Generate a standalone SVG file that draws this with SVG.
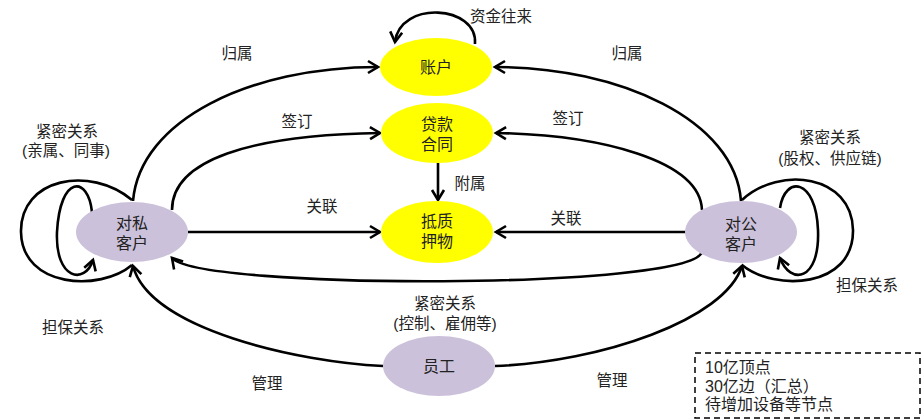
<svg xmlns="http://www.w3.org/2000/svg" width="922" height="420" viewBox="0 0 922 420">
<style>
.bg{fill:#ffffff}
.y{fill:#FFFF00;stroke:none}
.p{fill:#CCC1DA;stroke:none}
.e{fill:none;stroke:#000;stroke-width:2.6}
.nt{font-family:"Liberation Sans","Noto Sans CJK SC",sans-serif;font-size:16px;fill:#222;text-anchor:middle;dominant-baseline:central}
.lt{font-family:"Liberation Sans","Noto Sans CJK SC",sans-serif;font-size:15.5px;fill:#222;text-anchor:middle;dominant-baseline:central}
.bt{font-family:"Liberation Sans","Noto Sans CJK SC",sans-serif;font-size:16px;fill:#222;dominant-baseline:central}
</style>
<defs>
<marker id="arr" markerUnits="userSpaceOnUse" markerWidth="16" markerHeight="16" refX="13" refY="8" orient="auto">
<path d="M3,2 L13,8 L3,14" fill="none" stroke="#000" stroke-width="2.6" stroke-linejoin="miter"/>
</marker>
</defs>
<rect class="bg" x="0" y="0" width="922" height="420"/>

<g id="connectors">
<!-- self loop account -->
<path class="e" d="M475,44 C478,5 400,0 395,42" marker-end="url(#arr)"/>
<!-- private -> account -->
<path class="e" d="M133,201 C140,120 250,67 378,67" marker-end="url(#arr)"/>
<!-- private -> contract -->
<path class="e" d="M172,210 C172,160 250,135 380,133" marker-end="url(#arr)"/>
<!-- private -> collateral -->
<path class="e" d="M188,232 L380,232" marker-end="url(#arr)"/>
<!-- corporate -> account -->
<path class="e" d="M741,201 C735,120 620,67 495,67" marker-end="url(#arr)"/>
<!-- corporate -> contract -->
<path class="e" d="M702,210 C700,160 600,135 496,133" marker-end="url(#arr)"/>
<!-- corporate -> collateral -->
<path class="e" d="M686,232 L496,232" marker-end="url(#arr)"/>
<!-- contract -> collateral -->
<path class="e" d="M438,163 L438,200" marker-end="url(#arr)"/>
<!-- corporate -> private -->
<path class="e" d="M702,252 C690,290 200,290 172,258" marker-end="url(#arr)"/>
<!-- private self loops -->
<path class="e" d="M132,200 C90,165 20,178 21,232 C22,288 100,292 132,265"/>
<path class="e" d="M92,212 C88,175 60,175 57,232 C55,280 85,285 93,260" marker-end="url(#arr)"/>
<!-- corporate self loops -->
<path class="e" d="M742,200 C780,165 852,175 853,230 C854,288 775,292 742,265"/>
<path class="e" d="M780,208 C785,175 816,178 818,230 C820,282 790,285 780,258" marker-end="url(#arr)"/>
<!-- employee -> private -->
<path class="e" d="M383,366 C300,362 150,330 133,266" marker-end="url(#arr)"/>
<!-- employee -> corporate -->
<path class="e" d="M495,366 C600,362 725,320 742,266" marker-end="url(#arr)"/>
</g>

<g id="node-account">
<ellipse class="y" cx="436" cy="67" rx="56" ry="29"/>
<text class="nt" x="436" y="67">账户</text>
</g>
<g id="node-contract">
<ellipse class="y" cx="437" cy="133" rx="56" ry="30"/>
<text class="nt" x="437" y="124">贷款</text>
<text class="nt" x="437" y="144">合同</text>
</g>
<g id="node-collateral">
<ellipse class="y" cx="437" cy="232" rx="56" ry="31"/>
<text class="nt" x="437" y="221">抵质</text>
<text class="nt" x="437" y="241">押物</text>
</g>
<g id="node-private">
<ellipse class="p" cx="132" cy="232" rx="56" ry="30"/>
<text class="nt" x="132" y="223">对私</text>
<text class="nt" x="132" y="243">客户</text>
</g>
<g id="node-corporate">
<ellipse class="p" cx="741" cy="232" rx="56" ry="31"/>
<text class="nt" x="741" y="224">对公</text>
<text class="nt" x="741" y="244">客户</text>
</g>
<g id="node-employee">
<ellipse class="p" cx="439" cy="366" rx="56" ry="30"/>
<text class="nt" x="439" y="366">员工</text>
</g>

<g id="labels">
<text class="lt" x="501" y="16">资金往来</text>
<text class="lt" x="237" y="53">归属</text>
<text class="lt" x="627" y="53">归属</text>
<text class="lt" x="297" y="121">签订</text>
<text class="lt" x="568" y="118">签订</text>
<text class="lt" x="322" y="206">关联</text>
<text class="lt" x="566" y="218">关联</text>
<text class="lt" x="470" y="183">附属</text>
<text class="lt" x="67" y="131">紧密关系</text>
<text class="lt" x="66" y="150">(亲属、同事)</text>
<text class="lt" x="830" y="137">紧密关系</text>
<text class="lt" x="830" y="158">(股权、供应链)</text>
<text class="lt" x="867" y="285">担保关系</text>
<text class="lt" x="73" y="327">担保关系</text>
<text class="lt" x="445" y="303">紧密关系</text>
<text class="lt" x="445" y="323">(控制、雇佣等)</text>
<text class="lt" x="267" y="383">管理</text>
<text class="lt" x="612" y="380">管理</text>
</g>

<g id="note">
<rect x="695" y="353" width="225" height="65" fill="none" stroke="#000" stroke-width="1.5" stroke-dasharray="6,4"/>
<text class="bt" x="705" y="367">10亿顶点</text>
<text class="bt" x="705" y="386">30亿边（汇总）</text>
<text class="bt" x="705" y="404">待增加设备等节点</text>
</g>
</svg>
